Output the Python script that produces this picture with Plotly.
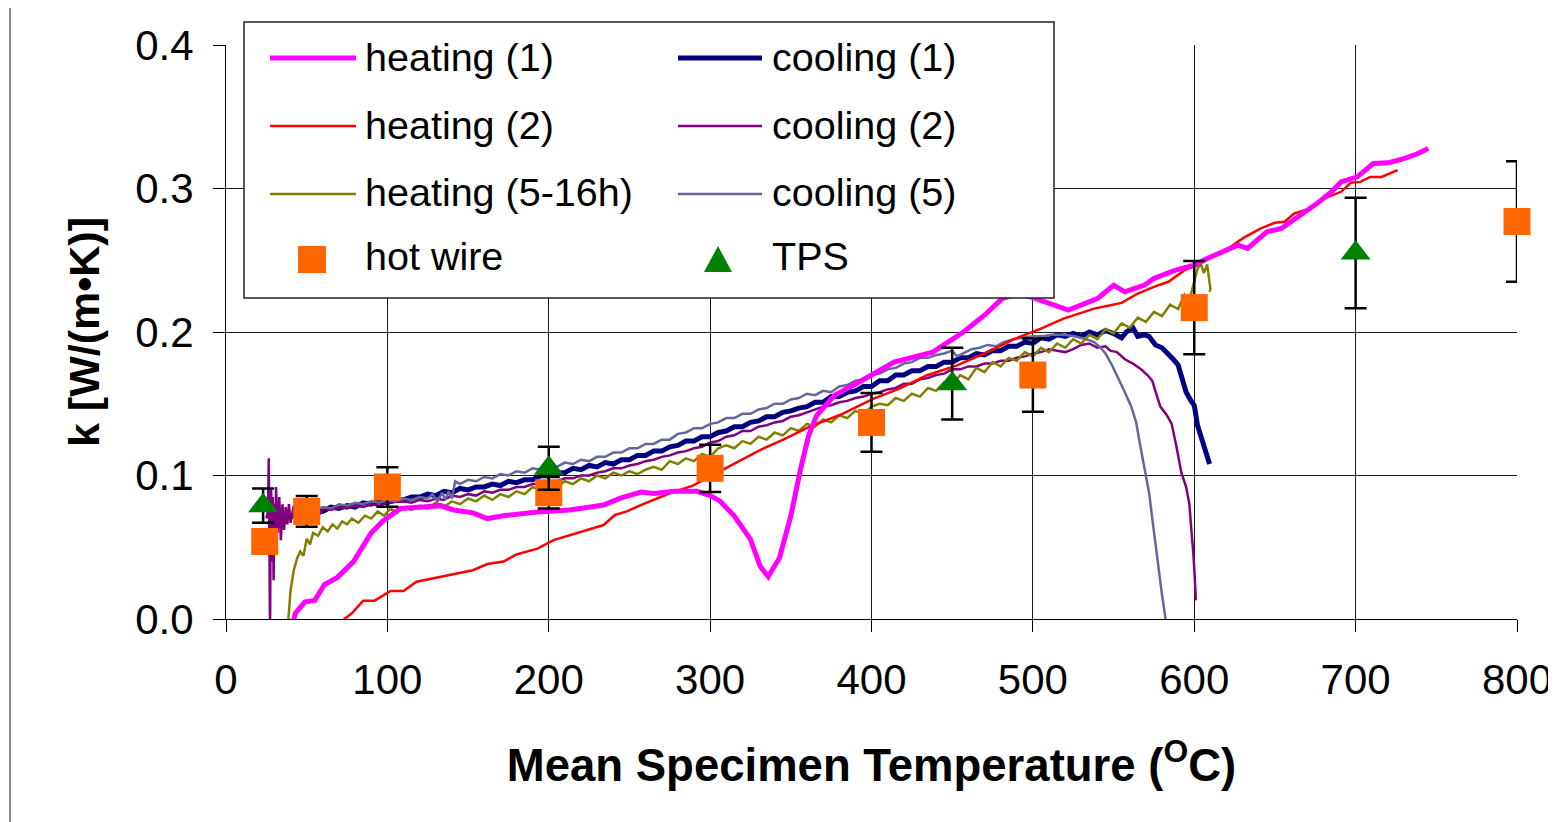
import plotly.graph_objects as go

# ---------------- data ----------------
heat1_x = [40, 43, 49, 55, 61, 69, 79, 90, 97, 108, 122, 133, 141, 153, 162, 172, 193, 213, 234, 244,
           257, 265, 278, 292, 300, 306, 315, 325, 331, 336, 343, 350, 356, 361, 366, 377, 394, 414,
           438, 457, 470, 481, 491, 500, 522, 540, 550, 557, 569, 575, 588, 600, 608, 621, 627, 633,
           645, 654, 666, 676, 685, 691, 701, 711, 720, 728, 738, 745]
heat1_y = [-0.010, 0.004, 0.012, 0.013, 0.024, 0.029, 0.040, 0.060, 0.068, 0.077, 0.078, 0.079, 0.076,
           0.074, 0.070, 0.072, 0.0746, 0.076, 0.0794, 0.084, 0.0885, 0.0875, 0.089, 0.089, 0.086, 0.0823,
           0.0718, 0.0555, 0.0368, 0.0295, 0.0427, 0.0718, 0.1044, 0.1277, 0.1417, 0.1557, 0.1662, 0.179,
           0.186, 0.200, 0.2117, 0.2233, 0.2270, 0.2240, 0.2152, 0.2233, 0.2326, 0.2280, 0.2326, 0.2373,
           0.243, 0.2466, 0.2512, 0.257, 0.2605, 0.2582, 0.2698, 0.2721, 0.2814, 0.2895, 0.2977, 0.3046,
           0.3081, 0.3174, 0.3179, 0.3202, 0.324, 0.3279]

heat2_x = [70, 78, 85, 92, 102, 110, 118, 131, 141, 153, 162, 172, 180, 193, 203, 213, 224, 234, 241, 248,
           257, 265, 275, 289, 301, 315, 330, 346, 363, 382, 401, 417, 434, 453, 472, 489, 505, 519, 538,
           548, 555, 565, 575, 584, 594, 602, 614, 621, 631, 641, 650, 656, 662, 670, 678, 691, 697, 703,
           709, 716, 726]
heat2_y = [-0.003, 0.004, 0.0128, 0.0128, 0.0195, 0.0195, 0.026, 0.029, 0.031, 0.034, 0.0383, 0.040, 0.045,
           0.049, 0.055, 0.0585, 0.062, 0.0655, 0.0725, 0.0748, 0.0794, 0.083, 0.0876, 0.0928, 0.0998,
           0.1079, 0.1172, 0.1254, 0.1347, 0.1429, 0.1534, 0.1604, 0.1697, 0.1767, 0.186, 0.1953, 0.2023,
           0.2093, 0.2163, 0.2187, 0.2203, 0.2268, 0.2315, 0.235, 0.2431, 0.2466, 0.2547, 0.2582, 0.2659,
           0.2721, 0.2761, 0.2768, 0.2826, 0.2854, 0.2919, 0.2977, 0.304, 0.3046, 0.3081, 0.3081, 0.3128]

heat5_x = [38, 40, 42, 44, 46, 48, 50, 52, 54, 57, 60, 63, 66, 69, 72, 75, 78, 82, 86, 90, 94, 98, 102,
           106, 110, 115, 120, 125, 130, 135, 140, 145, 150, 155, 160, 165, 170, 175, 180, 185, 190, 195,
           200, 205, 210, 215, 220, 225, 230, 235, 240, 245, 250, 255, 260, 265, 270, 275, 280, 285, 290,
           295, 300, 305, 310, 315, 320, 325, 330, 335, 340, 345, 350, 355, 360, 365, 370, 375, 380, 385,
           390, 395, 400, 405, 410, 415, 420, 425, 430, 435, 440, 445, 450, 455, 460, 465, 470, 475, 480,
           485, 490, 495, 500, 505, 510, 515, 520, 525, 530, 535, 540, 545, 550, 555, 560, 565, 570, 575,
           580, 585, 590, 594, 597, 600, 602, 604, 606, 608, 609, 610, 609.5]
heat5_y = [-0.010, 0.020, 0.034, 0.042, 0.047, 0.044, 0.056, 0.052, 0.060, 0.058, 0.064, 0.061, 0.066,
           0.063, 0.068, 0.066, 0.070, 0.067, 0.072, 0.070, 0.075, 0.072, 0.077, 0.074, 0.078, 0.076, 0.079,
           0.077, 0.081, 0.078, 0.082, 0.080, 0.084, 0.082, 0.086, 0.083, 0.087, 0.085, 0.089, 0.087, 0.092,
           0.090, 0.094, 0.092, 0.096, 0.094, 0.098, 0.096, 0.100, 0.098, 0.102, 0.100, 0.103, 0.101, 0.104,
           0.106, 0.104, 0.110, 0.108, 0.112, 0.110, 0.115, 0.113, 0.119, 0.121, 0.119, 0.124, 0.122, 0.127,
           0.125, 0.130, 0.128, 0.133, 0.131, 0.136, 0.134, 0.139, 0.137, 0.142, 0.140, 0.145, 0.143, 0.148,
           0.150, 0.149, 0.154, 0.152, 0.157, 0.155, 0.161, 0.159, 0.165, 0.163, 0.170, 0.167, 0.175, 0.172,
           0.179, 0.176, 0.182, 0.180, 0.186, 0.183, 0.189, 0.186, 0.192, 0.189, 0.195, 0.192, 0.198, 0.195,
           0.202, 0.199, 0.206, 0.203, 0.210, 0.207, 0.214, 0.211, 0.219, 0.216, 0.226, 0.222, 0.236, 0.244,
           0.248, 0.241, 0.247, 0.236, 0.230, 0.228]

cool1_x = [30, 35, 40, 45, 50, 55, 60, 65, 70, 75, 80, 85, 90, 95, 100, 105, 110, 115, 120, 125, 130, 135,
           140, 145, 150, 155, 160, 165, 170, 175, 180, 185, 190, 195, 200, 205, 210, 215, 220, 225, 230,
           235, 240, 245, 250, 255, 260, 265, 270, 275, 280, 285, 290, 295, 300, 305, 310, 315, 320, 325,
           330, 335, 340, 345, 350, 355, 360, 365, 370, 375, 380, 385, 390, 395, 400, 405, 410, 415, 420,
           425, 430, 435, 440, 445, 450, 455, 460, 465, 470, 475, 480, 485, 490, 495, 500, 505, 510, 515,
           520, 525, 530, 535, 540, 545, 550, 555, 558, 562, 565, 569, 572, 576, 580, 583, 587, 590, 593,
           595, 598, 600, 602, 605, 607, 609.5]
cool1_y = [0.070, 0.074, 0.071, 0.075, 0.073, 0.076, 0.075, 0.078, 0.077, 0.079, 0.078, 0.081, 0.080, 0.082,
           0.081, 0.083, 0.083, 0.085, 0.085, 0.087, 0.086, 0.089, 0.088, 0.091, 0.090, 0.092, 0.092, 0.094,
           0.093, 0.096, 0.095, 0.097, 0.097, 0.100, 0.100, 0.102, 0.102, 0.105, 0.104, 0.107, 0.106, 0.109,
           0.108, 0.111, 0.111, 0.114, 0.114, 0.117, 0.117, 0.120, 0.121, 0.124, 0.124, 0.127, 0.127, 0.130,
           0.131, 0.134, 0.134, 0.137, 0.138, 0.141, 0.141, 0.144, 0.145, 0.147, 0.148, 0.151, 0.151, 0.155,
           0.155, 0.158, 0.159, 0.162, 0.162, 0.166, 0.166, 0.170, 0.170, 0.173, 0.173, 0.176, 0.176, 0.179,
           0.179, 0.182, 0.182, 0.185, 0.184, 0.187, 0.187, 0.190, 0.190, 0.193, 0.192, 0.196, 0.195, 0.198,
           0.197, 0.199, 0.197, 0.200, 0.198, 0.201, 0.199, 0.196, 0.200, 0.203, 0.197, 0.198, 0.197, 0.191,
           0.189, 0.186, 0.181, 0.177, 0.166, 0.158, 0.152, 0.149, 0.135, 0.123, 0.115, 0.108]

cool2_x = [25, 26, 26.5, 27, 27.3, 27.6, 28, 28.5, 29, 29.5, 30, 30.5, 31, 32, 33, 34, 35, 36, 37, 38, 39,
           40, 42, 44, 46, 48, 50, 52, 55, 58, 61, 65, 70, 75, 80, 85, 90, 95, 100, 110, 115, 120, 125, 130,
           135, 140, 145, 150, 155, 160, 165, 170, 175, 180, 185, 190, 195, 200, 205, 210, 215, 220, 225,
           230, 235, 240, 245, 250, 255, 260, 265, 270, 275, 280, 285, 290, 295, 300, 305, 310, 315, 320,
           325, 330, 335, 340, 345, 350, 355, 360, 365, 370, 375, 380, 385, 390, 395, 400, 405, 410, 415,
           420, 425, 430, 435, 440, 445, 450, 455, 460, 465, 470, 475, 480, 485, 490, 495, 500, 505, 510,
           515, 520, 525, 530, 535, 540, 545, 548, 552, 557, 562, 567, 571, 574, 577, 579, 583, 586, 589,
           592, 595, 597, 598, 599.5, 600.5, 601]
cool2_y = [0.070, 0.075, 0.112, 0.030, -0.010, 0.060, 0.090, 0.040, 0.085, 0.027, 0.080, 0.045, 0.092, 0.060,
           0.085, 0.055, 0.080, 0.062, 0.078, 0.066, 0.080, 0.067, 0.079, 0.066, 0.076, 0.066, 0.074, 0.069,
           0.075, 0.073, 0.077, 0.076, 0.078, 0.077, 0.079, 0.078, 0.080, 0.079, 0.081, 0.082, 0.081, 0.083,
           0.082, 0.084, 0.083, 0.086, 0.085, 0.087, 0.086, 0.089, 0.088, 0.090, 0.090, 0.092, 0.092, 0.094,
           0.094, 0.096, 0.096, 0.098, 0.098, 0.100, 0.100, 0.102, 0.103, 0.105, 0.105, 0.107, 0.108, 0.110,
           0.111, 0.113, 0.114, 0.116, 0.117, 0.119, 0.120, 0.123, 0.124, 0.127, 0.128, 0.131, 0.131, 0.134,
           0.135, 0.137, 0.138, 0.141, 0.142, 0.144, 0.146, 0.148, 0.149, 0.151, 0.152, 0.154, 0.155, 0.157,
           0.158, 0.160, 0.161, 0.164, 0.164, 0.167, 0.168, 0.170, 0.171, 0.174, 0.174, 0.176, 0.176, 0.178,
           0.178, 0.180, 0.180, 0.182, 0.183, 0.185, 0.186, 0.188, 0.187, 0.186, 0.188, 0.191, 0.192, 0.189,
           0.190, 0.187, 0.186, 0.181, 0.178, 0.174, 0.170, 0.166, 0.155, 0.148, 0.142, 0.136, 0.120, 0.102,
           0.092, 0.080, 0.065, 0.045, 0.025, 0.013]

cool5_x = [55, 60, 65, 70, 75, 80, 85, 90, 95, 100, 105, 110, 115, 120, 125, 128, 131, 134, 136, 138, 140,
           142, 145, 150, 155, 160, 165, 170, 175, 180, 185, 190, 195, 200, 205, 210, 215, 220, 225, 230,
           235, 240, 245, 250, 255, 260, 265, 270, 275, 280, 285, 290, 295, 300, 305, 310, 315, 320, 325,
           330, 335, 340, 345, 350, 355, 360, 365, 370, 375, 380, 385, 390, 395, 400, 405, 410, 415, 420,
           425, 430, 435, 440, 445, 450, 453, 458, 462, 467, 472, 477, 482, 488, 494, 500, 506, 512, 519,
           526, 533, 538, 542, 545, 549, 553, 557, 561, 564, 567, 570, 572, 574, 576, 578, 580, 582, 583]
cool5_y = [0.076, 0.078, 0.077, 0.080, 0.079, 0.081, 0.080, 0.082, 0.081, 0.083, 0.082, 0.084, 0.083, 0.085,
           0.084, 0.087, 0.082, 0.088, 0.083, 0.089, 0.084, 0.096, 0.094, 0.097, 0.096, 0.099, 0.098, 0.101,
           0.100, 0.103, 0.102, 0.105, 0.104, 0.107, 0.106, 0.109, 0.108, 0.111, 0.110, 0.113, 0.113, 0.116,
           0.116, 0.119, 0.119, 0.122, 0.122, 0.125, 0.125, 0.129, 0.130, 0.133, 0.133, 0.136, 0.137, 0.140,
           0.140, 0.143, 0.143, 0.146, 0.147, 0.150, 0.150, 0.153, 0.154, 0.157, 0.156, 0.159, 0.158, 0.162,
           0.163, 0.166, 0.167, 0.170, 0.171, 0.174, 0.175, 0.178, 0.179, 0.182, 0.182, 0.184, 0.185, 0.187,
           0.183, 0.186, 0.188, 0.189, 0.191, 0.190, 0.193, 0.195, 0.196, 0.197, 0.197, 0.198, 0.198, 0.197,
           0.195, 0.193, 0.189, 0.185, 0.177, 0.168, 0.158, 0.148, 0.137, 0.118, 0.100, 0.088, 0.070, 0.051,
           0.035, 0.017, 0.002, -0.010]

hotwire_x = [24, 50, 100, 200, 300, 400, 500, 600, 800]
hotwire_y = [0.054, 0.075, 0.092, 0.088, 0.105, 0.137, 0.170, 0.217, 0.277]
hotwire_err = [0.005, 0.0107, 0.0138, 0.011, 0.0165, 0.0205, 0.0255, 0.0325, 0.042]

tps_x = [23, 200, 450, 700]
tps_y = [0.079, 0.105, 0.164, 0.255]
tps_err = [0.012, 0.015, 0.025, 0.0385]

x_ticks = [0, 100, 200, 300, 400, 500, 600, 700, 800]
y_ticks = [0.0, 0.1, 0.2, 0.3, 0.4]

legend_col1 = ["heating (1)", "heating (2)", "heating (5-16h)", "hot wire"]
legend_col2 = ["cooling (1)", "cooling (2)", "cooling (5)", "TPS"]

# ---------------- styling ----------------
C_H1, C_H2, C_H5 = "#FF00FF", "#FF0000", "#808000"
C_C1, C_C2, C_C5 = "#000080", "#800080", "#666699"
C_HW, C_TPS = "#FF6600", "#008000"
FONT = "Liberation Sans, Arial, sans-serif"

OFF = 8  # page body margin: figure is drawn 8px right/down in the window
W, H = 1556, 822
# plot area in window pixels: x 226..1517, y 45..619
ML, MT = 226 - OFF, 45 - OFF
MR, MB = W - (1517 - OFF), H - (619 - OFF)
PW, PH = W - ML - MR, H - MT - MB


def px(xp):  # window pixel -> paper x
    return (xp - OFF - ML) / PW


def py(yp):  # window pixel -> paper y
    return (H - MB - (yp - OFF)) / PH


fig = go.Figure()

line_series = [
    (cool1_x, cool1_y, C_C1, 5, "cooling (1)"),
    (cool2_x, cool2_y, C_C2, 2.5, "cooling (2)"),
    (cool5_x, cool5_y, C_C5, 2.5, "cooling (5)"),
    (heat5_x, heat5_y, C_H5, 2.5, "heating (5-16h)"),
    (heat2_x, heat2_y, C_H2, 2.5, "heating (2)"),
    (heat1_x, heat1_y, C_H1, 5, "heating (1)"),
]
for xs, ys, col, w, name in line_series:
    fig.add_trace(go.Scatter(x=xs, y=ys, mode="lines", name=name, showlegend=False,
                             line=dict(color=col, width=w)))

fig.add_trace(go.Scatter(x=hotwire_x, y=hotwire_y, mode="markers", name="hot wire", showlegend=False,
                         cliponaxis=False,
                         marker=dict(symbol="square", size=27, color=C_HW),
                         error_y=dict(type="data", array=hotwire_err, visible=True,
                                      color="black", thickness=2.5, width=11)))
fig.add_trace(go.Scatter(x=tps_x, y=tps_y, mode="markers", name="TPS", showlegend=False,
                         cliponaxis=False,
                         marker=dict(symbol="triangle-up", size=26, color=C_TPS),
                         error_y=dict(type="data", array=tps_err, visible=True,
                                      color="black", thickness=2.5, width=11)))

# ---------------- manual two-column legend ----------------
shapes = []
annotations = []
# outer chart border
shapes.append(dict(type="rect", xref="paper", yref="paper", x0=px(10), x1=px(1600), y0=py(860), y1=py(7),
                   line=dict(color="#404040", width=1.2), fillcolor="rgba(0,0,0,0)", layer="below"))
# legend box
shapes.append(dict(type="rect", xref="paper", yref="paper", x0=px(244), x1=px(1054), y0=py(298), y1=py(22),
                   line=dict(color="#202020", width=1.5), fillcolor="white", layer="above"))
row_y = [58, 126, 194, 259]
col1_styles = [(C_H1, 5), (C_H2, 2.5), (C_H5, 2.5)]
col2_styles = [(C_C1, 5), (C_C2, 2.5), (C_C5, 2.5)]
for i, (col, w) in enumerate(col1_styles):
    shapes.append(dict(type="line", xref="paper", yref="paper", x0=px(270), x1=px(356), y0=py(row_y[i]),
                       y1=py(row_y[i]), line=dict(color=col, width=w), layer="above"))
for i, (col, w) in enumerate(col2_styles):
    shapes.append(dict(type="line", xref="paper", yref="paper", x0=px(678), x1=px(762), y0=py(row_y[i]),
                       y1=py(row_y[i]), line=dict(color=col, width=w), layer="above"))
# square marker
shapes.append(dict(type="rect", xref="paper", yref="paper", x0=px(298), x1=px(326), y0=py(273), y1=py(246),
                   line=dict(width=0), fillcolor=C_HW, layer="above"))
# triangle marker
tri = "M {:.5f} {:.5f} L {:.5f} {:.5f} L {:.5f} {:.5f} Z".format(px(704), py(272), px(732), py(272), px(718), py(246))
shapes.append(dict(type="path", xref="paper", yref="paper", path=tri, line=dict(width=0),
                   fillcolor=C_TPS, layer="above"))

text_y = [57, 125, 192, 256]
for i, t in enumerate(legend_col1):
    annotations.append(dict(text=t, xref="paper", yref="paper", x=px(363), y=py(text_y[i]),
                            xanchor="left", yanchor="middle", showarrow=False,
                            font=dict(family=FONT, size=39.5, color="black")))
for i, t in enumerate(legend_col2):
    annotations.append(dict(text=t, xref="paper", yref="paper", x=px(770), y=py(text_y[i]),
                            xanchor="left", yanchor="middle", showarrow=False,
                            font=dict(family=FONT, size=39.5, color="black")))

axis_common = dict(showline=True, linecolor="black", linewidth=1, mirror=False,
                   showgrid=True, gridcolor="#1a1a1a", gridwidth=1, automargin=False,
                   ticks="outside", ticklen=12, tickcolor="black", tickwidth=1,
                   tickfont=dict(family=FONT, size=42, color="black"), zeroline=False)

fig.update_layout(
    width=W, height=H,
    margin=dict(l=ML, r=MR, t=MT, b=MB, pad=0, autoexpand=False),
    paper_bgcolor="white", plot_bgcolor="white",
    showlegend=False,
    shapes=shapes, annotations=annotations,
    xaxis=dict(range=[0, 800], tickvals=x_ticks, ticktext=[str(v) for v in x_ticks],
               ticklabelstandoff=12,
               title=dict(text="Mean Specimen Temperature (<sup>O</sup>C)",
                          font=dict(family=FONT, size=45.5, color="black", weight="bold"), standoff=46),
               **axis_common),
    yaxis=dict(range=[0, 0.4], tickvals=y_ticks, ticktext=["{:.1f}".format(v) for v in y_ticks],
               ticklabelstandoff=11,
               title=dict(text="k [W/(m•K)]",
                          font=dict(family=FONT, size=43, color="black", weight="bold"), standoff=22),
               **axis_common),
)

fig.write_html("out.html")
